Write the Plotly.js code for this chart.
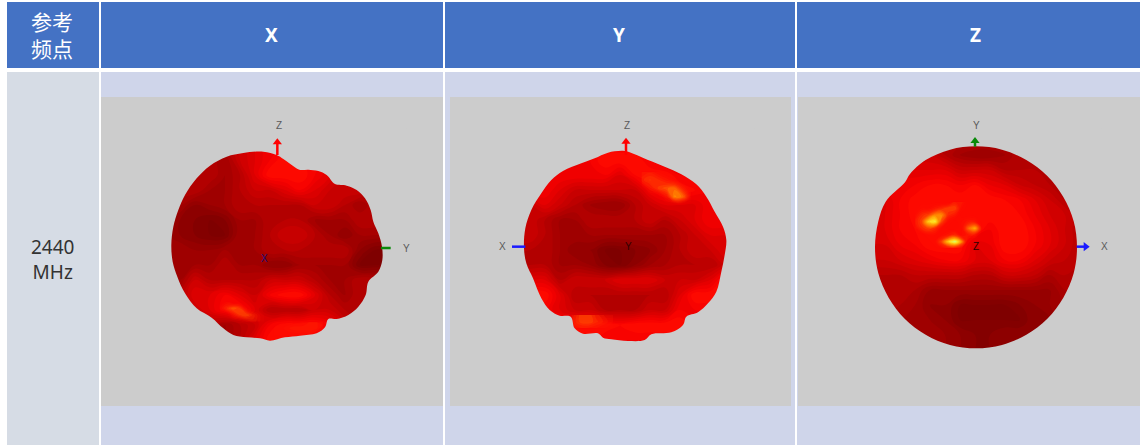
<!DOCTYPE html>
<html><head><meta charset="utf-8">
<script src="https://cdn.plot.ly/plotly-3.0.1.min.js"></script>
<style>html,body{margin:0;padding:0;background:#fff}#c{width:1140px;height:445px}</style>
</head><body><div id="c"></div>
<script>
const columnTitles = ['X','Y','Z'];
const cornerTitle = ['参考','频点'];
const rowLabel = ['2440','MHz'];

// Gain level (0 dark .. 10 hot) read from each view, and the reading grid
const gridX1 = [195,240,285,330,375,420,465,510,555,600,645,690,735,780,825,870];
const gridX2 = [201,246,291,336,381,426,471,516,561,606,651,696,741,786,831,876];
const gridX3 = [225,270,315,360,405,450,495,540,585,630,675,720,765,810,855];
const gridY12 = [150,195,240,285,330,375,420,465,510,555,600,645,690,735,780];
const gridY3 = [135,180,225,270,315,360,405,450,495,540,585,630,675,720,765];

const gainX = [
[3,3,3,3,3,4,5,6,6,6,5,5,4,4,4,4],
[3,3,3,3,2,4,5,6,7,6.5,6,5,4,4,4,4],
[3,3,3,3,2,3,5,7,7,7,6,5,4,4,4,4],
[3,3,3,2,2,3,4,4,5,6,5,4,4,4,3,3],
[2,2,1,1.5,2,3,3,3,3,3,4,4,3,2,3,3],
[1.5,1,0.5,0,0.5,2,2,3,3,3,2,2,2,3,3,3],
[1.5,1,0.5,0,0,2,2,3,4,4,3,2,1,2,2,2],
[2,2,1.5,1.5,2,2,2,3,3,3,3,3,3,1,0,0],
[2,2,2,2,3,2,2,1,1,2,2,2,2,0,0,0],
[2,2,4,3,3,3,3,4,4,4,3,2,2,3,3,3],
[3,3,5,5,6,5,4,6,7,7,5,3,2,3,3,3],
[3,3,4,5,6.5,7,5,3,3,3,4,4,3,3,3,3],
[2,2,2,3,2,3,4,6,7,7,7,6,4,3,3,3],
[1,1,1,2,2,3,5,7,7,7,6,5,4,3,3,3],
[1,1,1,2,2,3,5,7,7,7,6,5,4,3,3,3]];
const gainY = [
[5,5,5,5,5,5,6,6,6,5,5,5,5,5,5,5],
[6,6,6,6,5,6,7,7,7,6,5,5,5,5,5,5],
[6,6,6,6,6,6,6,5,6.5,7,7,6,6,6,6,6],
[6,6,6,5,4,4,4,4,4,6,7,7,6.5,6,6,6],
[4,4,5,4,3,2,1.5,1.5,3,4,5,5,5,6,6,6],
[4,4,3,2,2,3,3,3,3,4,3,4,5,6,6,6],
[4,4,3,2,2,2,2,2,2,2,2,3,4,5,5,5],
[3,3,3,2,1,1,0,0,0.5,1,2,3,4,4,5,5],
[3,3,3,2,2,1.5,0.5,0,1,2,2.5,3,3,3,4,4],
[5,5,5,3,4,4,4,5,5,5,4,4,4,5,7,7],
[7,7,7,5,3,3,3,3,3,3,3,5,7,7,7,7],
[6,6,6,5,4,4,3,3,3,4,4,6,6,6,6,6],
[7,7,7,7,7,7,7,6.5,7,7,7,7,6,6,6,6],
[6,6,6,6,7,7,6,6,6,6,6,6,6,6,6,6],
[6,6,6,6,7,7,6,6,6,6,6,6,6,6,6,6]];
const gainZ = [
[3,3,3,3,3,3,3,3,3,3,3,3,3,3,3],
[4,4,4,4,4,3,2,1.5,1.5,2,3,3,3,3,3],
[5,5,5,5,5,5,4,4,4,3,3,3,3,3,3],
[6,6,6,6,6.5,6.5,6,6.5,5.5,5,4,3.5,3,3,3],
[5,5,6,6.8,7,7,7,7,7,6.5,6,5,4,3,3],
[5,5,6,6.8,7,7,7,7,7,7,6.5,5.5,4.5,4,3],
[5,5,6,6.5,7,7,7,7,6,7,7,6,5,4,3],
[4.5,4.5,5.5,6,7,7,7,5,5.5,7,7,6,5,4,3],
[4,4,4.5,5,5.5,6,6,5,5,6,6,5,4,3.5,3],
[3,3,3,3.5,3.5,3.5,3.5,3,3,4,4,3.5,2.5,3,3],
[3,3,3,2.5,1.5,1.5,1.5,1.5,1.5,1.5,1.5,1.5,1.5,2.5,3],
[3,3,2.5,2,1,1,0,0,0,0,0.5,1,1.5,2,2],
[2,2,2,2,1.5,1,0,0,0,0,0,1,1,2,2],
[2,2,2,2,2,1.5,1,0.5,0.5,1,1,1,2,2,2],
[2,2,2,2,2,1.5,1,0.5,0.5,1,1,1,2,2,2]];

// Hot streaks, read on a finer grid (0 none .. 1 hottest)
const hotX1_x = [360,380,400,420,440,460,480,500];
const hotX1_y = [620,640,660,680];
const hotX1 = [
[0,0.1,0,0,0,0,0,0],
[0.1,0.3,0.45,0.35,0.1,0,0,0],
[0,0,0.2,0.35,0.4,0.25,0.1,0],
[0,0,0,0,0.1,0.2,0.1,0]];
const hotX2_x = [520,550,580,610,640,670];
const hotX2_y = [680,700,720];
const hotX2 = [
[0,0,0.05,0.1,0.2,0.1],
[0.05,0.1,0.2,0.2,0.2,0.1],
[0.05,0.1,0.05,0.05,0.05,0]];
const hotY1_x = [580,605,630,655,680,705,730];
const hotY1_y = [230,255,280,305,330];
const hotY1 = [
[0.15,0.2,0.1,0,0,0,0],
[0.25,0.35,0.3,0.2,0.1,0,0],
[0,0.2,0.35,0.45,0.5,0.25,0],
[0,0,0,0.2,0.6,0.5,0.1],
[0,0,0,0,0,0,0]];
const hotY2_x = [370,395,420,445,470,495];
const hotY2_y = [660,680,700];
const hotY2 = [
[0.15,0.35,0.4,0.25,0.15,0.1],
[0.2,0.35,0.4,0.3,0.2,0.1],
[0.1,0.2,0.2,0.15,0.1,0.1]];
const hotZ_x = [360,380,400,420,440,460,480,500,520,540,560];
const hotZ_y = [320,340,360,380,400,420,440,460];
const hotZ = [
[0,0,0,0,0,0,0.2,0.2,0,0,0],
[0,0.1,0.1,0.2,0.3,0.4,0.4,0.1,0,0,0],
[0.1,0.3,0.4,0.6,0.6,0.3,0.2,0,0,0,0],
[0.2,0.4,0.8,0.9,0.4,0.1,0,0.1,0.2,0.2,0],
[0.1,0.3,0.4,0.3,0.1,0,0,0.1,0.5,0.7,0.2],
[0,0,0.1,0.1,0.1,0.2,0.3,0.1,0.2,0.2,0],
[0,0,0,0.1,0.4,0.8,1,0.6,0,0,0],
[0,0,0,0,0.1,0.2,0.2,0.1,0,0,0]];

// Silhouettes of the three views
const outlineX_x = [530,550,572,598,625,655,680,705,740,770,795,812,820,835,846,847,835,805,797,775,745,710,685,675,650,600,555,510,480,440,400,370,335,290,255,232,218,214,220,235,255,290,330,380,430,490];
const outlineX_y = [180,192,208,224,224,228,240,267,272,285,310,345,380,415,455,495,530,560,600,635,660,672,672,697,715,722,727,737,730,727,720,700,668,640,595,545,500,450,395,345,300,250,212,185,174,170];
const outlineY_x = [530,560,600,650,700,745,775,800,825,835,830,820,805,780,750,715,705,670,610,590,540,490,465,450,405,380,368,335,305,280,255,235,228,232,250,280,310,345,400,440,480];
const outlineY_y = [168,178,195,215,238,268,305,350,395,435,480,530,590,625,652,665,690,712,718,735,738,733,728,715,716,700,665,662,645,610,550,505,460,400,345,295,255,228,205,190,173];
const outlineZ_x = [543,621,694,757,805,836,846,836,805,757,694,621,543,465,392,329,281,250,240,250,272,330,345,392,465];
const outlineZ_y = [154,164,195,243,306,379,457,535,608,671,719,750,760,750,719,671,608,535,457,379,320,262,237,195,164];

const levelStops = [0,2,4,6,7,8,9,10];
const levelColors = ['#7f0000','#a30000','#cc0000','#f50000','#ff0c00','#ff5500','#ffa000','#ffff30'];
const hotStops = [0,0.08,0.3,0.6,0.85,1];
const hotColors = ['rgba(255,30,0,0)','rgba(255,30,0,0.15)','rgba(255,70,0,0.35)','rgba(255,150,0,0.7)','#ffe020','#d0ff70'];

const W = 1140, H = 445;
const px = v => v / W, py = v => 1 - v / H;
const colorscale = levelStops.map((s, i) => [s / 10, levelColors[i]]);
const hotScale = hotStops.map((s, i) => [s, hotColors[i]]);
const GRAY = '#cccccc', HEAD = '#4472c4', LIGHT = '#cfd5ea', SIDE = '#d6dce5';

function rect(x0, y0, x1, y1, c) {
  return {type:'rect', xref:'paper', yref:'paper', x0:px(x0), x1:px(x1), y0:py(y0), y1:py(y1),
          fillcolor:c, line:{width:0}, layer:'below'};
}
const shapes = [
  rect(7,2,99,68,HEAD), rect(101,2,443,68,HEAD), rect(445,2,795,68,HEAD), rect(797,2,1140,68,HEAD),
  rect(7,72,99,445,SIDE), rect(101,72,443,445,LIGHT), rect(445,72,795,445,LIGHT), rect(797,72,1140,445,LIGHT),
  rect(101,97,443,406,GRAY), rect(450,97,791,406,GRAY), rect(798,97,1140,406,GRAY)
];

function paperText(x, y, text, size, color, bold, family) {
  return {xref:'paper', yref:'paper', x:px(x), y:py(y), text: bold ? '<b>'+text+'</b>' : text,
          showarrow:false, xanchor:'center', yanchor:'middle',
          font:{size, color, family}};
}
const SANS = 'Noto Sans, Open Sans, sans-serif', CJK = 'Noto Sans CJK SC, sans-serif';
const annotations = [
  paperText(271,35,columnTitles[0],19,'#fff',true,SANS),
  paperText(619,35,columnTitles[1],19,'#fff',true,SANS),
  paperText(975,35,columnTitles[2],19,'#fff',true,SANS),
  paperText(52,35,cornerTitle.join('<br>'),21,'#fff',false,CJK),
  paperText(52,259,rowLabel.join('<br>'),19,'#333',false,SANS)
];

const traces = [];
const layout = {
  width:W, height:H, margin:{l:0,r:0,t:0,b:0}, showlegend:false,
  paper_bgcolor:'#fff', plot_bgcolor:'rgba(0,0,0,0)', shapes, annotations, hovermode:false
};

function axisText(xa, ya, x, y, t, color) {
  annotations.push({xref:xa, yref:ya, x, y, text:t, showarrow:false, xanchor:'center', yanchor:'middle',
    font:{size:10, color:color||'#5a5a5a', family:'Liberation Sans, Arial, sans-serif'}});
}
function axisLine(xa, ya, xs, ys, color, symbol) {
  traces.push({type:'scatter', mode:'lines', x:xs, y:ys, xaxis:xa, yaxis:ya,
    line:{color, width:2.5}, hoverinfo:'skip'});
  if (symbol) traces.push({type:'scatter', mode:'markers', x:[xs[xs.length-1]], y:[ys[ys.length-1]], xaxis:xa, yaxis:ya,
    marker:{symbol, size:8, color}, hoverinfo:'skip'});
}
function hotspot(xa, ya, xs, ys, zs) {
  traces.push({type:'contour', x:xs, y:ys, z:zs, xaxis:xa, yaxis:ya, zmin:0, zmax:1,
    colorscale:hotScale, showscale:false, autocontour:false, hoverinfo:'skip',
    contours:{start:0.04, end:1, size:0.06, coloring:'fill', showlines:false},
    line:{width:0, smoothing:1.2}});
}

function view(n, cropX, gx, gy, gain, ox, oy, hots) {
  const xa = n === 1 ? 'x' : 'x'+n, ya = n === 1 ? 'y' : 'y'+n;
  const xk = n === 1 ? 'xaxis' : 'xaxis'+n, yk = n === 1 ? 'yaxis' : 'yaxis'+n;
  const off = {visible:false, fixedrange:true};
  layout[xk] = {...off, domain:[px(cropX), px(cropX+345)], range:[0,1035]};
  layout[yk] = {...off, domain:[py(410), py(95)], range:[945,0]};
  traces.push({type:'contour', x:gx, y:gy, z:gain, xaxis:xa, yaxis:ya, zmin:0, zmax:10,
    colorscale, showscale:false, autocontour:false, hoverinfo:'skip',
    contours:{start:0, end:10, size:0.5, coloring:'fill', showlines:false},
    line:{width:0, smoothing:1.2}});
  hots.forEach(h => hotspot(xa, ya, h[0], h[1], h[2]));
  // Grey surround with the silhouette left open
  const L=150, R=920, T=100, B=830, e=6;
  const mx = [L,L+e,R-e,R,R,R,R,R-e,L+e,L,L,L,L,null].concat(ox.slice().reverse(), [ox[ox.length-1]]);
  const my = [T,T,T,T,T+e,B-e,B,B,B,B,B-e,T+e,T,null].concat(oy.slice().reverse(), [oy[oy.length-1]]);
  traces.push({type:'scatter', mode:'lines', x:mx, y:my, xaxis:xa, yaxis:ya, fill:'toself',
    fillcolor:GRAY, line:{width:0, color:GRAY, shape:'spline', smoothing:1}, hoverinfo:'skip'});
  return [xa, ya];
}

const [xa1, ya1] = view(1, 100, gridX1, gridY12, gainX, outlineX_x, outlineX_y, [[hotX1_x, hotX1_y, hotX1],[hotX2_x, hotX2_y, hotX2]]);
const [xa2, ya2] = view(2, 448, gridX2, gridY12, gainY, outlineY_x, outlineY_y, [[hotY1_x, hotY1_y, hotY1],[hotY2_x, hotY2_y, hotY2]]);
const [xa3, ya3] = view(3, 795, gridX3, gridY3, gainZ, outlineZ_x, outlineZ_y, [[hotZ_x, hotZ_y, hotZ]]);

axisLine(xa1, ya1, [532,532], [180,142], '#ff0000', 'triangle-up');
axisLine(xa1, ya1, [843,872], [459,459], '#0a8a0a');
axisText(xa1, ya1, 536, 93, 'Z');
axisText(xa1, ya1, 918, 459, 'Y');
axisText(xa1, ya1, 492, 490, 'X', '#20107a');

axisLine(xa2, ya2, [534,534], [180,140], '#ff0000', 'triangle-up');
axisLine(xa2, ya2, [232,192], [455,455], '#1a1aff');
axisText(xa2, ya2, 538, 93, 'Z');
axisText(xa2, ya2, 162, 453, 'X');
axisText(xa2, ya2, 541, 453, 'Y', '#300000');

axisLine(xa3, ya3, [540,540], [155,138], '#0a8a0a', 'triangle-up');
axisLine(xa3, ya3, [845,872], [455,455], '#1a1aff', 'triangle-right');
axisText(xa3, ya3, 546, 93, 'Y');
axisText(xa3, ya3, 927, 455, 'X');
axisText(xa3, ya3, 544, 455, 'Z', '#300000');

Plotly.newPlot('c', traces, layout, {displayModeBar:false, staticPlot:true});
</script></body></html>
